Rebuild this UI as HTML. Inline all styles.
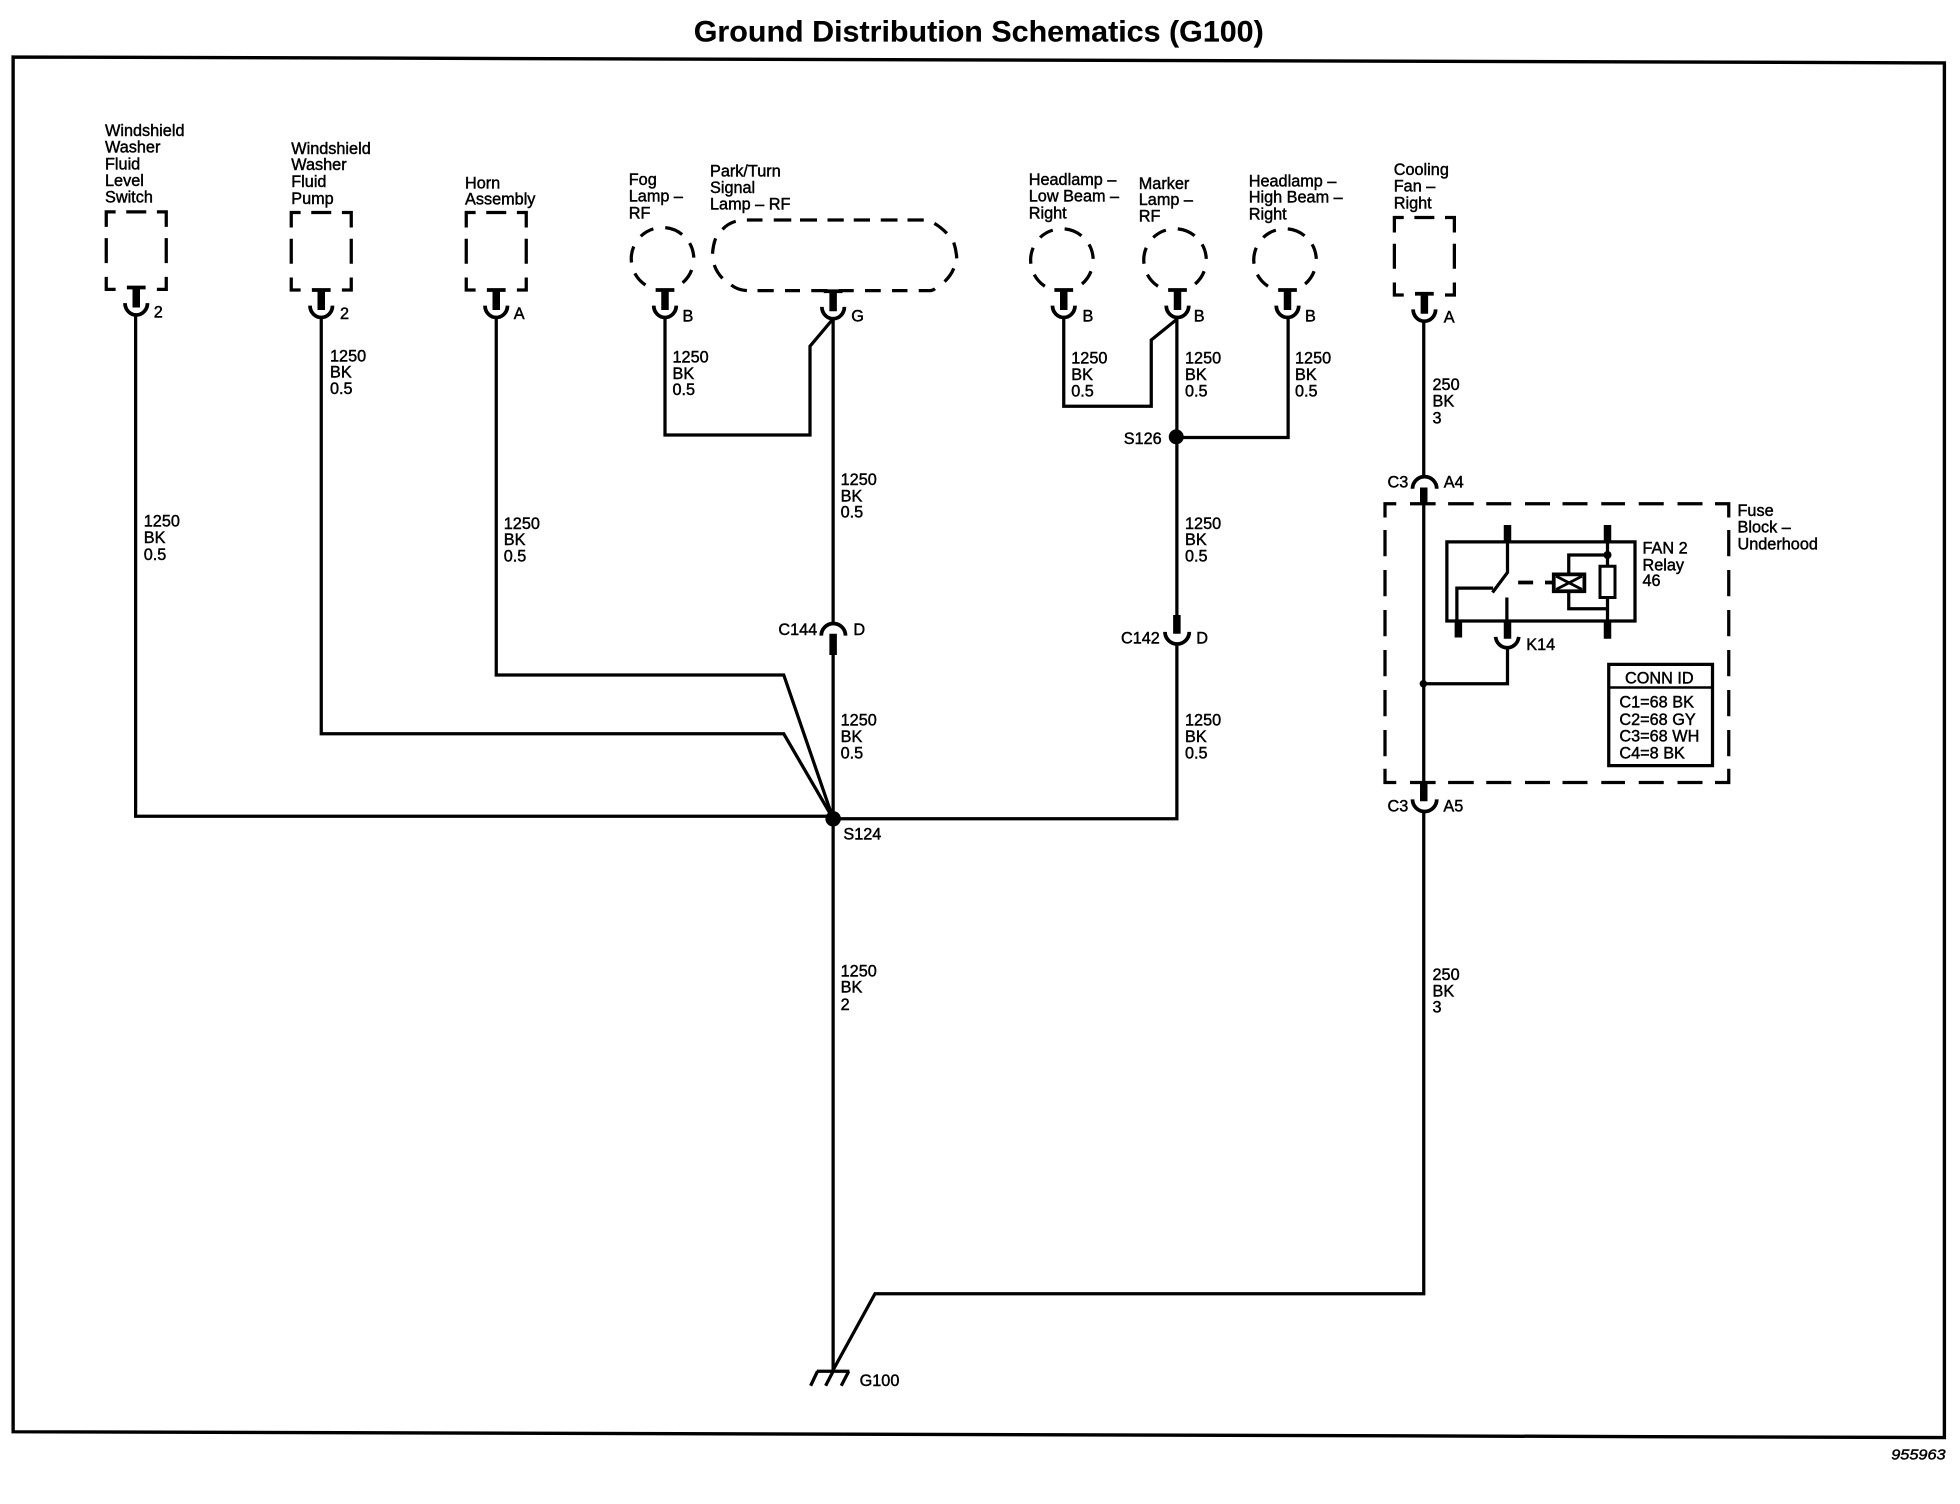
<!DOCTYPE html>
<html>
<head>
<meta charset="utf-8">
<title>Ground Distribution Schematics (G100)</title>
<style>
html,body{margin:0;padding:0;background:#fff;}
svg{display:block;}
text{font-family:"Liberation Sans",sans-serif;font-size:13px;fill:#000;stroke:#000;stroke-width:.35px;}
.w{fill:none;stroke:#000;stroke-width:2.6;stroke-linejoin:miter;stroke-linecap:butt;}
.d{fill:none;stroke:#000;stroke-width:2.6;}
.th{fill:none;stroke:#000;stroke-width:6;}
</style>
</head>
<body>
<svg xmlns="http://www.w3.org/2000/svg" width="1960" height="1504" viewBox="0 0 1568 1203.2">
<defs>
<g id="box"><path class="d" d="M0,12V0H7.5M16,0H32M40.5,0H48V12M0,21V41M48,21V41M0,52V62H7.5M40.5,62H48V52"/></g>
<g id="con"><path d="M-7.5,0H7.5" fill="none" stroke="#000" stroke-width="3"/><path class="th" d="M0,0V16"/><path d="M-9,12.5A9,9.5 0 0 0 9,12.5" fill="none" stroke="#000" stroke-width="3"/></g>
<path id="circ" class="d" d="M2.2,-24.9A25,25 0 0 1 15.7,-19.4M21.7,-12.5A25,25 0 0 1 25,-.9M23.3,9A25,25 0 0 1 16.1,19.2M-13.6,21A25,25 0 0 1 -22.1,11.7M-24.8,3A25,25 0 0 1 -23,-9.8M-17.4,-18A25,25 0 0 1 -7.3,-23.9"/>
</defs>

<text x="555" y="33" textLength="456" lengthAdjust="spacingAndGlyphs" style="font-size:24px;font-weight:bold;stroke-width:.1px">Ground Distribution Schematics (G100)</text>

<!-- frame -->
<path d="M10.5,45.6L1555.5,50.3V1150L10.5,1145.4Z" fill="none" stroke="#000" stroke-width="2.7"/>

<!-- component outlines -->
<use href="#box" x="85" y="169.5"/>
<use href="#box" x="233" y="170"/>
<use href="#box" x="373" y="170"/>
<use href="#box" x="1115.5" y="174"/>
<use href="#circ" x="530" y="207"/>
<use href="#circ" x="849.5" y="208"/>
<use href="#circ" x="940" y="208"/>
<use href="#circ" x="1028" y="208"/>
<path class="d" d="M597.5,176H610M619,176H633M640,176H653.6M662,176H675M683,176H696M704.6,176H718M726,176H739M606,232.5H619M628,232.5H640M649,232.5H662M671,232.5H683M692,232.5H704.6M713.6,232.5H726M735,232.5H744Q746,232.5 748,231M578,183.5Q582,179 588.6,177M572.5,190.7Q570.5,196 570,203M571.4,212Q573.5,218 578,222.7M585,228Q590,232 597.5,232.5M747.5,178.7Q753,182 757.5,186.7M763,194Q765,200 765.4,206.7M763,214.7Q761,220 755.7,225.3"/>

<!-- connectors -->
<use href="#con" x="109" y="230"/>
<use href="#con" x="257" y="232"/>
<use href="#con" x="397" y="232"/>
<use href="#con" x="532" y="232"/>
<use href="#con" x="666.5" y="233"/>
<use href="#con" x="851" y="232"/>
<use href="#con" x="942" y="232"/>
<use href="#con" x="1030" y="232"/>
<use href="#con" x="1139.5" y="235"/>

<!-- wires -->
<path class="w" d="M108.5,252V653H666"/>
<path class="w" d="M257,254V587H627L666.5,655"/>
<path class="w" d="M397,254V540H627L666.5,655"/>
<path class="w" d="M532,254V348H648V277L666.5,255"/>
<path class="w" d="M666.5,255V498"/>
<path class="w" d="M666.5,520V1096"/>
<path class="w" d="M666.5,655H941.5V516"/>
<path class="w" d="M851,254V325H921V272L942,255"/>
<path class="w" d="M941.5,254V493"/>
<path class="w" d="M941,350H1030.5V254"/>
<path class="w" d="M1139,257V381"/>
<path class="w" d="M1139,403V625"/>
<path class="w" d="M1139,649V1035H700L666.5,1096"/>

<circle cx="666.5" cy="655" r="6.2"/>
<circle cx="941" cy="349.5" r="6"/>

<!-- C144 -->
<path d="M657,508.5A9.7,9.7 0 0 1 676.4,508.5" fill="none" stroke="#000" stroke-width="3"/>
<path class="th" d="M666.5,507V524"/>
<!-- C142 -->
<path class="th" d="M941.5,492V507"/>
<path d="M932,505.5A9.7,9.7 0 0 0 951.4,505.5" fill="none" stroke="#000" stroke-width="3"/>
<!-- C3 A4 -->
<path d="M1130,391A9.7,9.7 0 0 1 1149.4,391" fill="none" stroke="#000" stroke-width="3"/>
<path class="th" d="M1139,390V404"/>
<!-- C3 A5 -->
<path class="th" d="M1139,625V641"/>
<path d="M1130,639.5A9.7,9.7 0 0 0 1149.4,639.5" fill="none" stroke="#000" stroke-width="3"/>

<!-- Fuse block dashed -->
<path class="d" d="M1108,414V403H1117M1128,403H1148.5M1158.5,403H1179M1189,403H1209M1220,403H1240M1250,403H1270M1281,403H1300M1311,403H1331M1342,403H1362M1372,403H1383V414M1383,424V445M1383,456V477M1383,488V509M1383,520V541M1383,552V573M1383,584V605M1383,615V626H1372M1362,626H1342M1331,626H1311M1300,626H1281M1270,626H1250M1240,626H1220M1209,626H1189M1179,626H1158.5M1148.5,626H1128M1117,626H1108V615M1108,605V584M1108,573V552M1108,541V520M1108,509V488M1108,477V456M1108,445V424"/>

<!-- Relay -->
<rect x="1157.5" y="433.5" width="150.5" height="63.3" fill="none" stroke="#000" stroke-width="2.6"/>
<path class="th" d="M1206,420V434"/>
<path class="th" d="M1286,420V434"/>
<path class="th" d="M1166.7,497V510"/>
<path class="th" d="M1206,497V511"/>
<path class="th" d="M1286,497V511"/>
<path class="w" d="M1206,434V458L1194,474"/>
<path class="w" d="M1194.5,470.5H1165.5V497"/>
<path class="w" d="M1205.5,478V497"/>
<path class="w" d="M1286,434V453"/>
<path class="w" d="M1286,478V497"/>
<path class="w" d="M1286,444H1255V459"/>
<path class="w" d="M1255,473V487H1286"/>
<circle cx="1286" cy="444" r="3.2"/>
<rect x="1280" y="453" width="12" height="25" fill="#fff" stroke="#000" stroke-width="2.4"/>
<path d="M1214.5,466H1226.5M1236,466H1243" fill="none" stroke="#000" stroke-width="3"/>
<rect x="1243" y="459.5" width="24.5" height="13.5" fill="#fff" stroke="#000" stroke-width="3"/>
<path d="M1245,461L1265.5,471.5M1265.5,461L1245,471.5" fill="none" stroke="#000" stroke-width="2.2"/>
<path d="M1196.5,509.5A9.3,9.7 0 0 0 1215,509.5" fill="none" stroke="#000" stroke-width="3"/>
<path class="w" d="M1206,519V547H1138.7"/>
<circle cx="1138.7" cy="547" r="3"/>

<!-- CONN ID -->
<rect x="1287" y="531.5" width="83" height="81" fill="#fff" stroke="#000" stroke-width="2.6"/>
<path d="M1287,550H1370" stroke="#000" stroke-width="2" fill="none"/>

<!-- ground -->
<path d="M653.5,1097H679.5M654,1097L648.5,1108.6M666.5,1097L660.5,1108.6M679,1097L673,1108.6" fill="none" stroke="#000" stroke-width="2.6"/>

<!-- component labels -->
<text x="84" y="108.8">Windshield</text><text x="84" y="122">Washer</text><text x="84" y="135.5">Fluid</text><text x="84" y="148.8">Level</text><text x="84" y="162">Switch</text>
<text x="233" y="123">Windshield</text><text x="233" y="136">Washer</text><text x="233" y="149.5">Fluid</text><text x="233" y="163">Pump</text>
<text x="372" y="150.7">Horn</text><text x="372" y="163.5">Assembly</text>
<text x="503" y="148">Fog</text><text x="503" y="161.3">Lamp –</text><text x="503" y="174.7">RF</text>
<text x="568" y="141.3">Park/Turn</text><text x="568" y="154.5">Signal</text><text x="568" y="167.5">Lamp – RF</text>
<text x="823" y="148">Headlamp –</text><text x="823" y="161">Low Beam –</text><text x="823" y="174.7">Right</text>
<text x="911" y="151">Marker</text><text x="911" y="164">Lamp –</text><text x="911" y="177">RF</text>
<text x="999" y="149">Headlamp –</text><text x="999" y="162">High Beam –</text><text x="999" y="175.5">Right</text>
<text x="1115" y="140">Cooling</text><text x="1115" y="153.3">Fan –</text><text x="1115" y="166.7">Right</text>

<!-- pin labels -->
<text x="123" y="254">2</text><text x="272" y="255">2</text><text x="411" y="255">A</text><text x="546" y="257">B</text><text x="681" y="257">G</text><text x="866" y="257">B</text><text x="955" y="257">B</text><text x="1044" y="257">B</text><text x="1155" y="258">A</text>
<text x="622.7" y="508">C144</text><text x="682.7" y="508">D</text>
<text x="896.8" y="514.7">C142</text><text x="957" y="514.7">D</text>
<text x="674.7" y="671.5">S124</text>
<text x="899" y="355">S126</text>
<text x="1110" y="390">C3</text><text x="1155" y="390">A4</text>
<text x="1110" y="649">C3</text><text x="1154.7" y="649">A5</text>
<text x="1221" y="520">K14</text>
<text x="687.7" y="1108.8">G100</text>

<!-- wire labels -->
<text x="115" y="421">1250</text><text x="115" y="434.5">BK</text><text x="115" y="448">0.5</text>
<text x="264" y="289">1250</text><text x="264" y="302">BK</text><text x="264" y="315">0.5</text>
<text x="403" y="423">1250</text><text x="403" y="436">BK</text><text x="403" y="449">0.5</text>
<text x="538" y="290">1250</text><text x="538" y="303">BK</text><text x="538" y="316">0.5</text>
<text x="672.5" y="388">1250</text><text x="672.5" y="401">BK</text><text x="672.5" y="414">0.5</text>
<text x="672.5" y="580.5">1250</text><text x="672.5" y="593.5">BK</text><text x="672.5" y="606.7">0.5</text>
<text x="672.5" y="781">1250</text><text x="672.5" y="794">BK</text><text x="672.5" y="808">2</text>
<text x="857" y="290.7">1250</text><text x="857" y="304">BK</text><text x="857" y="317">0.5</text>
<text x="948" y="290.7">1250</text><text x="948" y="304">BK</text><text x="948" y="317">0.5</text>
<text x="1036" y="290.7">1250</text><text x="1036" y="304">BK</text><text x="1036" y="317">0.5</text>
<text x="948" y="423">1250</text><text x="948" y="436">BK</text><text x="948" y="449">0.5</text>
<text x="948" y="580.5">1250</text><text x="948" y="593.5">BK</text><text x="948" y="606.7">0.5</text>
<text x="1146" y="312">250</text><text x="1146" y="325.3">BK</text><text x="1146" y="338.7">3</text>
<text x="1146" y="784">250</text><text x="1146" y="797">BK</text><text x="1146" y="810">3</text>

<!-- block labels -->
<text x="1390" y="412.8">Fuse</text><text x="1390" y="425.9">Block –</text><text x="1390" y="439.5">Underhood</text>
<text x="1314" y="442.7">FAN 2</text><text x="1314" y="456.5">Relay</text><text x="1314" y="468.8">46</text>
<text x="1300" y="546.7">CONN ID</text>
<text x="1295.5" y="566">C1=68 BK</text><text x="1295.5" y="580">C2=68 GY</text><text x="1295.5" y="593">C3=68 WH</text><text x="1295.5" y="606.7">C4=8 BK</text>

<text x="1513" y="1167.5" textLength="43.5" lengthAdjust="spacingAndGlyphs" style="font-size:11.5px;font-style:italic">955963</text>
</svg>
</body>
</html>
